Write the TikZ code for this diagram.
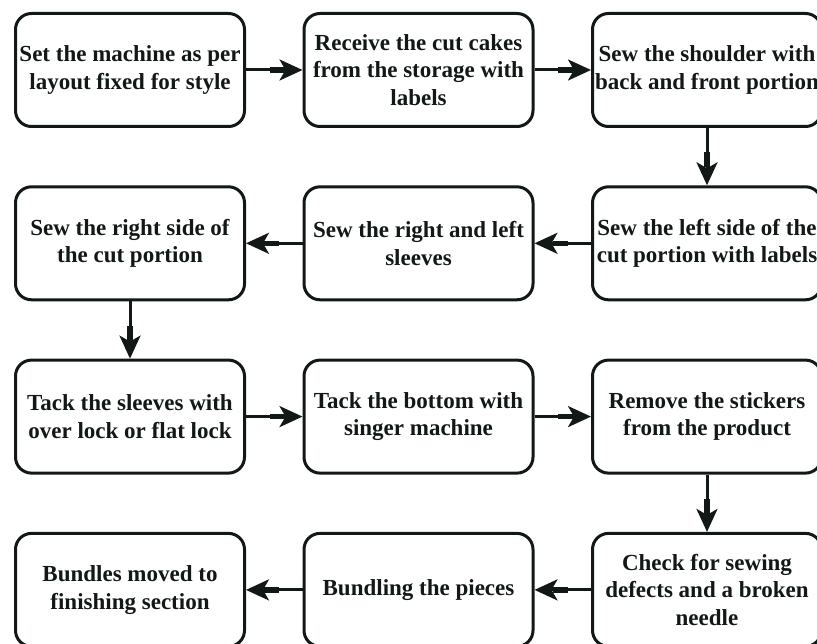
\documentclass[tikz,border=0pt]{standalone}
\usepackage{fontspec}
\setmainfont{Liberation Serif}
\usetikzlibrary{positioning, arrows.meta}
\definecolor{flowink}{RGB}{17, 24, 22}
\tikzset{
    stepbox/.style={rectangle, rounded corners=16pt, draw=flowink, line width=3pt,
        minimum width=229pt, minimum height=113pt, inner xsep=0pt, align=center,
        text=flowink, font=\fontsize{23}{27.5}\selectfont\bfseries},
    flowarrow/.style={draw=flowink, line width=3pt,
        -{Rectangle[length=15pt, width=5.5pt, sep=-5pt] Stealth[length=23pt, width=21pt, inset=6pt]}}
}
\begin{document}
\begin{tikzpicture}[node distance=57.3pt and 56.5pt]
    \useasboundingbox (0,0) rectangle (817pt,-644pt);
    % row 1
    \node[stepbox] (set) at (130pt,-70pt) {Set the machine as per\\layout fixed for style};
    \node[stepbox, right=of set] (receive) {Receive the cut cakes\\from the storage with\\labels};
    \node[stepbox, right=of receive] (shoulder) {Sew the shoulder with\\back and front portion};
    % row 2
    \node[stepbox, below=of shoulder] (leftside) {Sew the left side of the\\cut portion with labels};
    \node[stepbox, left=of leftside] (sleeves) {Sew the right and left\\sleeves};
    \node[stepbox, left=of sleeves] (rightside) {Sew the right side of\\the cut portion};
    % row 3
    \node[stepbox, below=of rightside] (tack) {Tack the sleeves with\\over lock or flat lock};
    \node[stepbox, right=of tack] (bottom) {Tack the bottom with\\singer machine};
    \node[stepbox, right=of bottom] (stickers) {Remove the stickers\\from the product};
    % row 4
    \node[stepbox, below=of stickers] (check) {Check for sewing\\defects and a broken\\needle};
    \node[stepbox, left=of check] (bundling) {Bundling the pieces};
    \node[stepbox, left=of bundling] (bundles) {Bundles moved to\\finishing section};

    \draw[flowarrow] (set) -- (receive);
    \draw[flowarrow] (receive) -- (shoulder);
    \draw[flowarrow] (shoulder) -- (leftside);
    \draw[flowarrow] (leftside) -- (sleeves);
    \draw[flowarrow] (sleeves) -- (rightside);
    \draw[flowarrow] (rightside) -- (tack);
    \draw[flowarrow] (tack) -- (bottom);
    \draw[flowarrow] (bottom) -- (stickers);
    \draw[flowarrow] (stickers) -- (check);
    \draw[flowarrow] (check) -- (bundling);
    \draw[flowarrow] (bundling) -- (bundles);
\end{tikzpicture}
\end{document}
